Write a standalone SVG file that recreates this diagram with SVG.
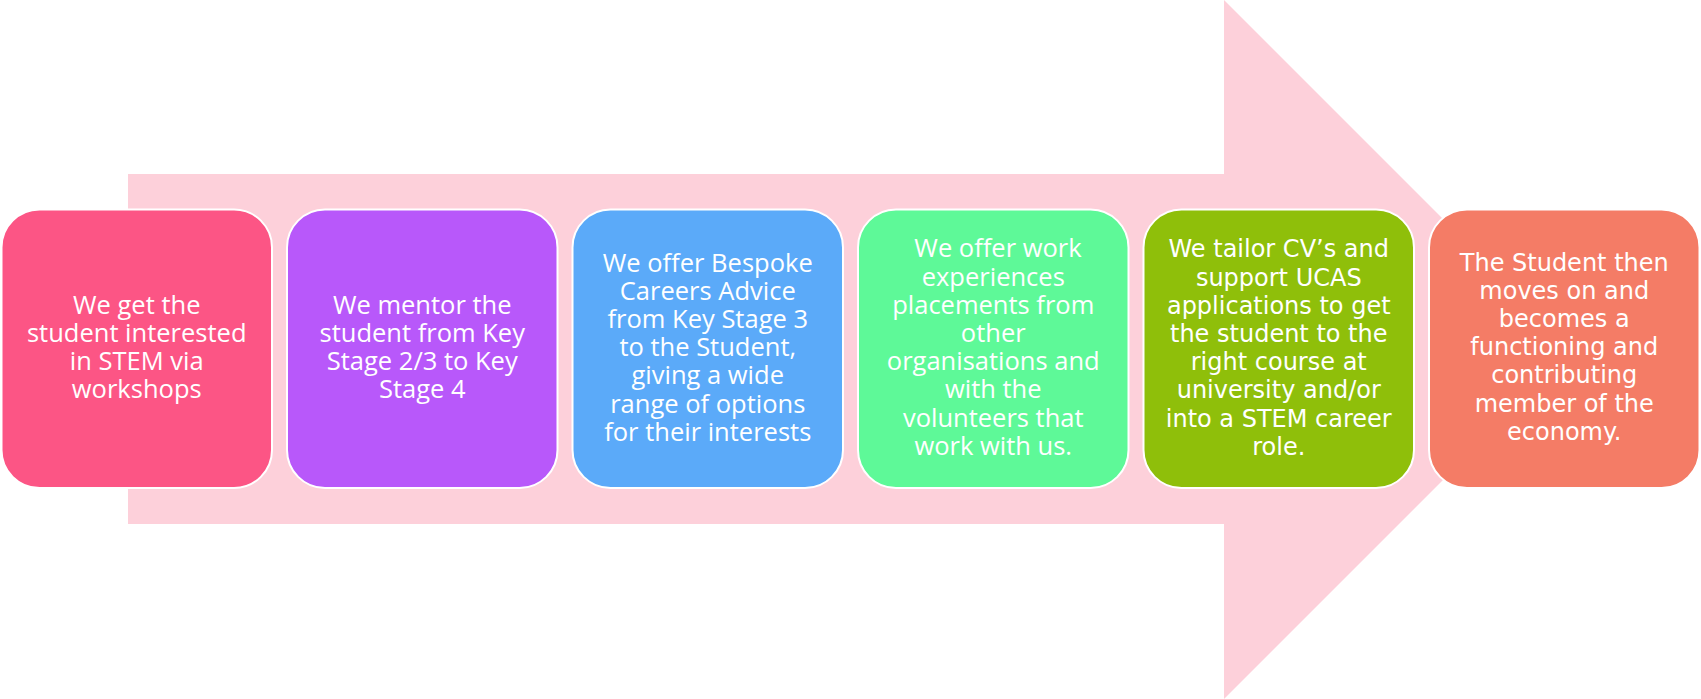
<svg xmlns="http://www.w3.org/2000/svg" width="1701" height="699" viewBox="0 0 1701 699">
<style>
.box{stroke:#ffffff;stroke-width:2}
.t{font-family:"Open Sans","Liberation Sans",sans-serif;font-size:25.5px;fill:#ffffff;text-anchor:middle}
.v{font-family:"DejaVu Sans","Liberation Sans",sans-serif;font-size:24px;fill:#ffffff;text-anchor:middle}
</style>
<rect width="1701" height="699" fill="#ffffff"/>
<g id="connectors">
<polygon points="128,174 1224,174 1224,0 1573.5,349.5 1224,699 1224,524 128,524" fill="#FDD0DA"/>
</g>
<g id="node1">
<rect class="box" x="1.5" y="209.5" width="270.5" height="278.5" rx="38" fill="#FC5585"/>
<text class="t"><tspan x="136.75" y="314">We get the</tspan><tspan x="136.75" y="342">student interested</tspan><tspan x="136.75" y="370">in STEM via</tspan><tspan x="136.75" y="398">workshops</tspan></text>
</g>
<g id="node2">
<rect class="box" x="287" y="209.5" width="270.5" height="278.5" rx="38" fill="#B858FA"/>
<text class="t"><tspan x="422.25" y="314">We mentor the</tspan><tspan x="422.25" y="342">student from Key</tspan><tspan x="422.25" y="370">Stage 2/3 to Key</tspan><tspan x="422.25" y="398">Stage 4</tspan></text>
</g>
<g id="node3">
<rect class="box" x="572.5" y="209.5" width="270.5" height="278.5" rx="38" fill="#5BAAF9"/>
<text class="t"><tspan x="707.75" y="271.7">We offer Bespoke</tspan><tspan x="707.75" y="299.9">Careers Advice</tspan><tspan x="707.75" y="328.1">from Key Stage 3</tspan><tspan x="707.75" y="356.2">to the Student,</tspan><tspan x="707.75" y="384.4">giving a wide</tspan><tspan x="707.75" y="412.6">range of options</tspan><tspan x="707.75" y="440.7">for their interests</tspan></text>
</g>
<g id="node4">
<rect class="box" x="858" y="209.5" width="270.5" height="278.5" rx="38" fill="#5EF998"/>
<text class="t"><tspan x="998" y="257.3">We offer work</tspan><tspan x="993.25" y="285.5">experiences</tspan><tspan x="993.25" y="313.7">placements from</tspan><tspan x="993.25" y="341.9">other</tspan><tspan x="993.25" y="370.1">organisations and</tspan><tspan x="993.25" y="398.3">with the</tspan><tspan x="993.25" y="426.5">volunteers that</tspan><tspan x="993.25" y="454.7">work with us.</tspan></text>
</g>
<g id="node5">
<rect class="box" x="1143.5" y="209.5" width="270.5" height="278.5" rx="38" fill="#8FBF0A"/>
<text class="v"><tspan x="1278.75" y="257.3">We tailor CV’s and</tspan><tspan x="1278.75" y="285.5">support UCAS</tspan><tspan x="1278.75" y="313.7">applications to get</tspan><tspan x="1278.75" y="341.9">the student to the</tspan><tspan x="1278.75" y="370.1">right course at</tspan><tspan x="1278.75" y="398.3">university and/or</tspan><tspan x="1278.75" y="426.5">into a STEM career</tspan><tspan x="1278.75" y="454.7">role.</tspan></text>
</g>
<g id="node6">
<rect class="box" x="1429" y="209.5" width="270.5" height="278.5" rx="38" fill="#F47C66"/>
<text class="v"><tspan x="1564.25" y="270.7">The Student then</tspan><tspan x="1564.25" y="298.9">moves on and</tspan><tspan x="1564.25" y="327.1">becomes a</tspan><tspan x="1564.25" y="355.2">functioning and</tspan><tspan x="1564.25" y="383.4">contributing</tspan><tspan x="1564.25" y="411.6">member of the</tspan><tspan x="1564.25" y="439.7">economy.</tspan></text>
</g>
</svg>
